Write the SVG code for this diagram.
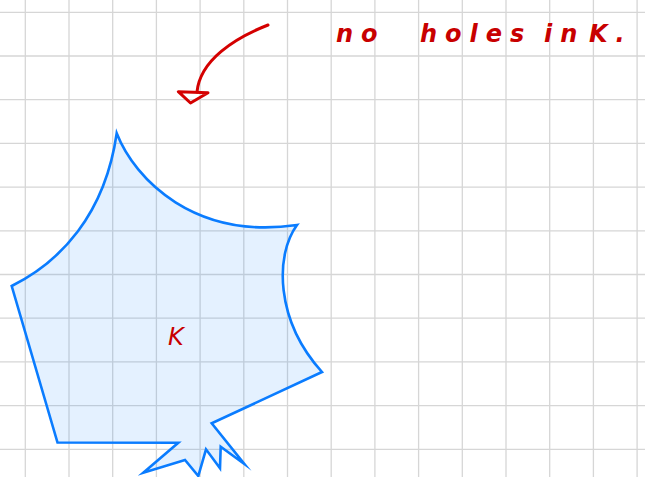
<svg xmlns="http://www.w3.org/2000/svg" width="645" height="477" viewBox="0 0 645 477">
<style>
.grid line{stroke:#d6d6d6;stroke-width:1.3}
.shape{fill:#0a7cff;fill-opacity:0.11;stroke:#0a7cff;stroke-width:2.6;stroke-linejoin:miter;stroke-miterlimit:20}
.ink{fill:none;stroke:#d40000;stroke-width:3;stroke-linecap:round;stroke-linejoin:round}
.note{font-family:"DejaVu Sans",sans-serif;font-style:italic;font-weight:bold;fill:#c80000;font-size:24px;letter-spacing:8px}
.label{font-family:"DejaVu Sans",sans-serif;font-style:italic;fill:#c80000;font-size:24px}
</style>
<rect width="645" height="477" fill="#ffffff"/>
<g class="grid">
<line x1="25.3" y1="0" x2="25.3" y2="477"/>
<line x1="69" y1="0" x2="69" y2="477"/>
<line x1="112.7" y1="0" x2="112.7" y2="477"/>
<line x1="156.4" y1="0" x2="156.4" y2="477"/>
<line x1="200.1" y1="0" x2="200.1" y2="477"/>
<line x1="243.8" y1="0" x2="243.8" y2="477"/>
<line x1="287.5" y1="0" x2="287.5" y2="477"/>
<line x1="331.2" y1="0" x2="331.2" y2="477"/>
<line x1="374.9" y1="0" x2="374.9" y2="477"/>
<line x1="418.6" y1="0" x2="418.6" y2="477"/>
<line x1="462.3" y1="0" x2="462.3" y2="477"/>
<line x1="506" y1="0" x2="506" y2="477"/>
<line x1="549.7" y1="0" x2="549.7" y2="477"/>
<line x1="593.4" y1="0" x2="593.4" y2="477"/>
<line x1="637.1" y1="0" x2="637.1" y2="477"/>
<line x1="0" y1="12.3" x2="645" y2="12.3"/>
<line x1="0" y1="56" x2="645" y2="56"/>
<line x1="0" y1="99.7" x2="645" y2="99.7"/>
<line x1="0" y1="143.4" x2="645" y2="143.4"/>
<line x1="0" y1="187.1" x2="645" y2="187.1"/>
<line x1="0" y1="230.8" x2="645" y2="230.8"/>
<line x1="0" y1="274.5" x2="645" y2="274.5"/>
<line x1="0" y1="318.2" x2="645" y2="318.2"/>
<line x1="0" y1="361.9" x2="645" y2="361.9"/>
<line x1="0" y1="405.6" x2="645" y2="405.6"/>
<line x1="0" y1="449.3" x2="645" y2="449.3"/>
</g>
<g id="K">
<path class="shape" d="M11.7,286 C60,262 105,215 116.7,133.3 C135,180 195,240 297,225 C275,255 275,320 322,372 L211.7,423.3 L244.3,464 L220.7,446.7 L220,468.3 L206,449.3 L198.3,476 L185,460 L143.3,472.7 L178.3,442.7 L57.5,442.5 Z"/>
<text x="168" y="345" class="label">K</text>
</g>
<g id="note">
<text x="336" y="42" class="note">no</text>
<text x="420" y="42" class="note">holes</text>
<text x="544" y="42" class="note">in</text>
<text x="589" y="42" class="note">K.</text>
</g>
<g id="connectors">
<path class="ink" d="M268,25 C235,38 200,60 197,92"/>
<path class="ink" d="M178.3,91.7 L208,92.8 L190.5,103 Z"/>
</g>
</svg>
